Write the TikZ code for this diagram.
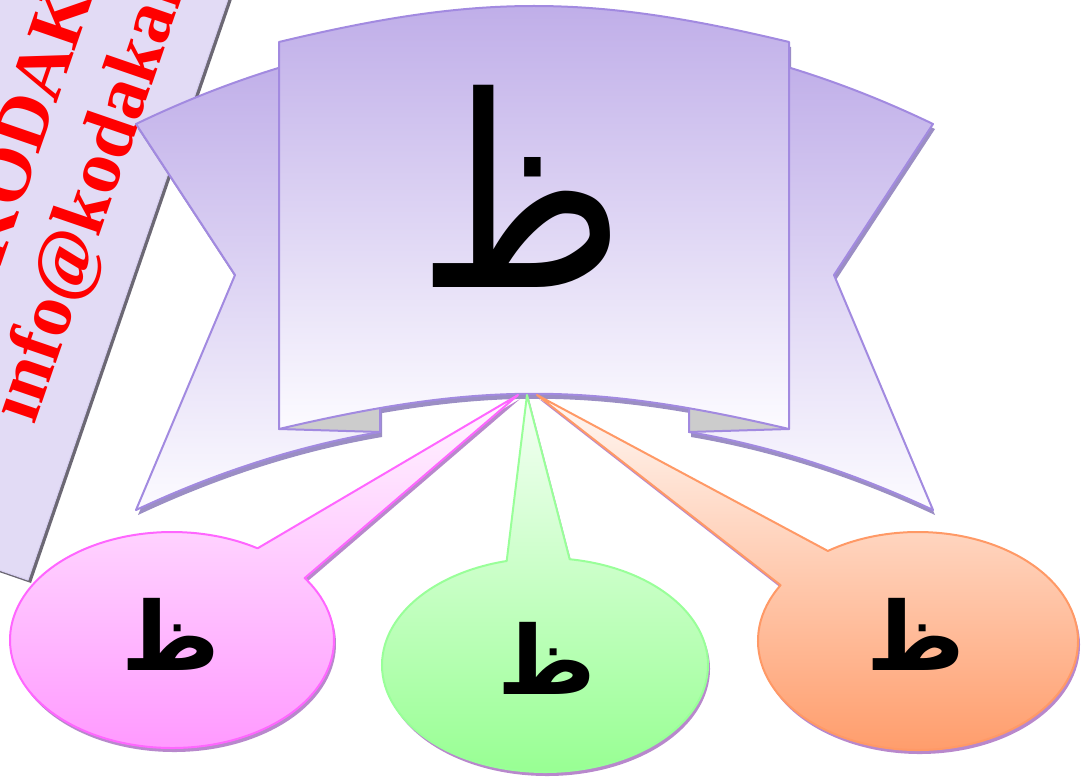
\documentclass[tikz,border=0pt]{standalone}
\usepackage{fontspec}
\setmainfont{Liberation Serif}
\newfontfamily\arabicfont[Script=Arabic]{DejaVu Sans}
\TeXXeTstate=1
\usetikzlibrary{calc}

\definecolor{ribtop}{RGB}{190,172,232}
\definecolor{ribbot}{RGB}{252,251,255}
\definecolor{ribline}{RGB}{162,138,224}
\definecolor{ribshadow}{RGB}{155,142,196}
\definecolor{foldgray}{RGB}{204,204,204}
\definecolor{notefill}{RGB}{226,219,245}
\definecolor{noteedge}{RGB}{214,206,240}
\definecolor{noteshadow}{RGB}{108,104,116}
\definecolor{pinkline}{RGB}{255,102,255}
\definecolor{pinktop}{RGB}{255,246,255}
\definecolor{pinkbot}{RGB}{255,150,255}
\definecolor{greenline}{RGB}{153,255,153}
\definecolor{greentop}{RGB}{246,255,246}
\definecolor{greenbot}{RGB}{150,255,145}
\definecolor{orangeline}{RGB}{255,153,102}
\definecolor{orangetop}{RGB}{255,248,244}
\definecolor{orangebot}{RGB}{255,153,102}
\definecolor{callshadow}{RGB}{184,136,204}

\newcommand\frontpanel{(279,42) .. controls (479,-6) and (589,-6) .. (789,42) -- (789,429) .. controls (589,382) and (479,382) .. (279,429) -- cycle}
\newcommand\leftback{(136,124) .. controls (217,85) and (299,58) .. (380,43) -- (380,432) .. controls (298,446) and (217,472) .. (136,510) -- (235,275) -- cycle}
\newcommand\rightback{(933,124) .. controls (852,85) and (770,58) .. (689,43) -- (689,432) .. controls (771,446) and (852,472) .. (933,510) -- (834,275) -- cycle}
\newcommand\pinkshape{(pinkA) -- (apexP) -- (pinkB) arc[start angle=35, end angle=-301.9, x radius=162pt, y radius=108pt] -- cycle}
\newcommand\greenshape{(greenA) -- (apexG) -- (greenB) arc[start angle=81.3, end angle=-256.4, x radius=163pt, y radius=107pt] -- cycle}
\newcommand\orangeshape{(orangeA) -- (apexO) -- (orangeB) arc[start angle=149.2, end angle=484.3, x radius=160pt, y radius=109pt] -- cycle}

\tikzset{
  ribbon/.style={draw=ribline, line width=2pt, line join=round, top color=ribtop, bottom color=ribbot},
  ribshade/.style={fill=ribshadow},
  foldfill/.style={fill=foldgray},
  foldedge/.style={draw=ribline, line width=2pt, line join=round},
  notetext/.style={text=red, font=\bfseries\fontsize{76}{76}\selectfont, inner sep=0pt, transform shape},
  callout/.style={line width=2pt, line join=round},
  glyphbig/.style={font=\arabicfont\fontsize{250}{250}\selectfont, inner sep=0pt},
  glyphsmall/.style={font=\arabicfont\bfseries\fontsize{95}{95}\selectfont, inner sep=0pt}
}

\begin{document}
\begin{tikzpicture}[x=1pt,y=-1pt]
\useasboundingbox (0,0) rectangle (1081,778);
\clip (0,0) rectangle (1081,778);

% sticky note
\begin{scope}[shift={(31,583)},rotate=71]
  \fill[noteshadow] (0pt,0pt) rectangle (900pt,500pt);
\end{scope}
\begin{scope}[shift={(28,580)},rotate=71]
  \path[fill=notefill, draw=noteedge, line width=1pt] (0pt,0pt) rectangle (900pt,500pt);
  \node[notetext, anchor=base west] (line1) at (286pt,128pt) {KODAKAN};
  \node[notetext, anchor=base west] (line2) at (148pt,44pt) {info@kodakan};
\end{scope}

% banner shadows
\begin{scope}[transform canvas={shift={(2pt,-5pt)}}]
  \fill[ribshade] \frontpanel;
  \fill[ribshade] \leftback;
  \fill[ribshade] \rightback;
\end{scope}
\path[ribbon] \leftback;
\path[ribbon] \rightback;
% folds
\fill[foldfill] (279,429) -- (380,432) -- (380,395) -- (279,395) -- cycle;
\draw[foldedge] (279,429) -- (380,432) -- (380,405);
\fill[foldfill] (789,429) -- (689,432) -- (689,395) -- (789,395) -- cycle;
\draw[foldedge] (789,429) -- (689,432) -- (689,405);
% front panel
\path[ribbon] \frontpanel;
\node[glyphbig] (bigZ) at (522,186) {\scalebox{0.9}[1.065]{\beginR ظ\endR}};

% callout geometry
\coordinate (cP) at (172,640);
\coordinate (cG) at (545,665);
\coordinate (cO) at (918,641);
\coordinate (apexP) at (518,395);
\coordinate (apexG) at (527,395);
\coordinate (apexO) at (537,395);
\coordinate (pinkA) at ($(cP)+(58.1:162pt and 108pt)$);
\coordinate (pinkB) at ($(cP)+(35:162pt and 108pt)$);
\coordinate (greenA) at ($(cG)+(103.6:163pt and 107pt)$);
\coordinate (greenB) at ($(cG)+(81.3:163pt and 107pt)$);
\coordinate (orangeA) at ($(cO)+(124.3:160pt and 109pt)$);
\coordinate (orangeB) at ($(cO)+(149.2:160pt and 109pt)$);

\begin{scope}[transform canvas={shift={(2pt,-4pt)}}]
  \fill[callshadow] \pinkshape;
  \fill[callshadow] \greenshape;
  \fill[callshadow] \orangeshape;
\end{scope}
\path[callout, draw=pinkline, top color=pinktop, bottom color=pinkbot] \pinkshape;
\path[callout, draw=greenline, top color=greentop, bottom color=greenbot] \greenshape;
\path[callout, draw=orangeline, top color=orangetop, bottom color=orangebot] \orangeshape;

\node[glyphsmall] (pinkZ) at (171,634) {\beginR ظ\endR};
\node[glyphsmall] (greenZ) at (547,658) {\beginR ظ\endR};
\node[glyphsmall] (orangeZ) at (916,634) {\beginR ظ\endR};
\end{tikzpicture}
\end{document}
